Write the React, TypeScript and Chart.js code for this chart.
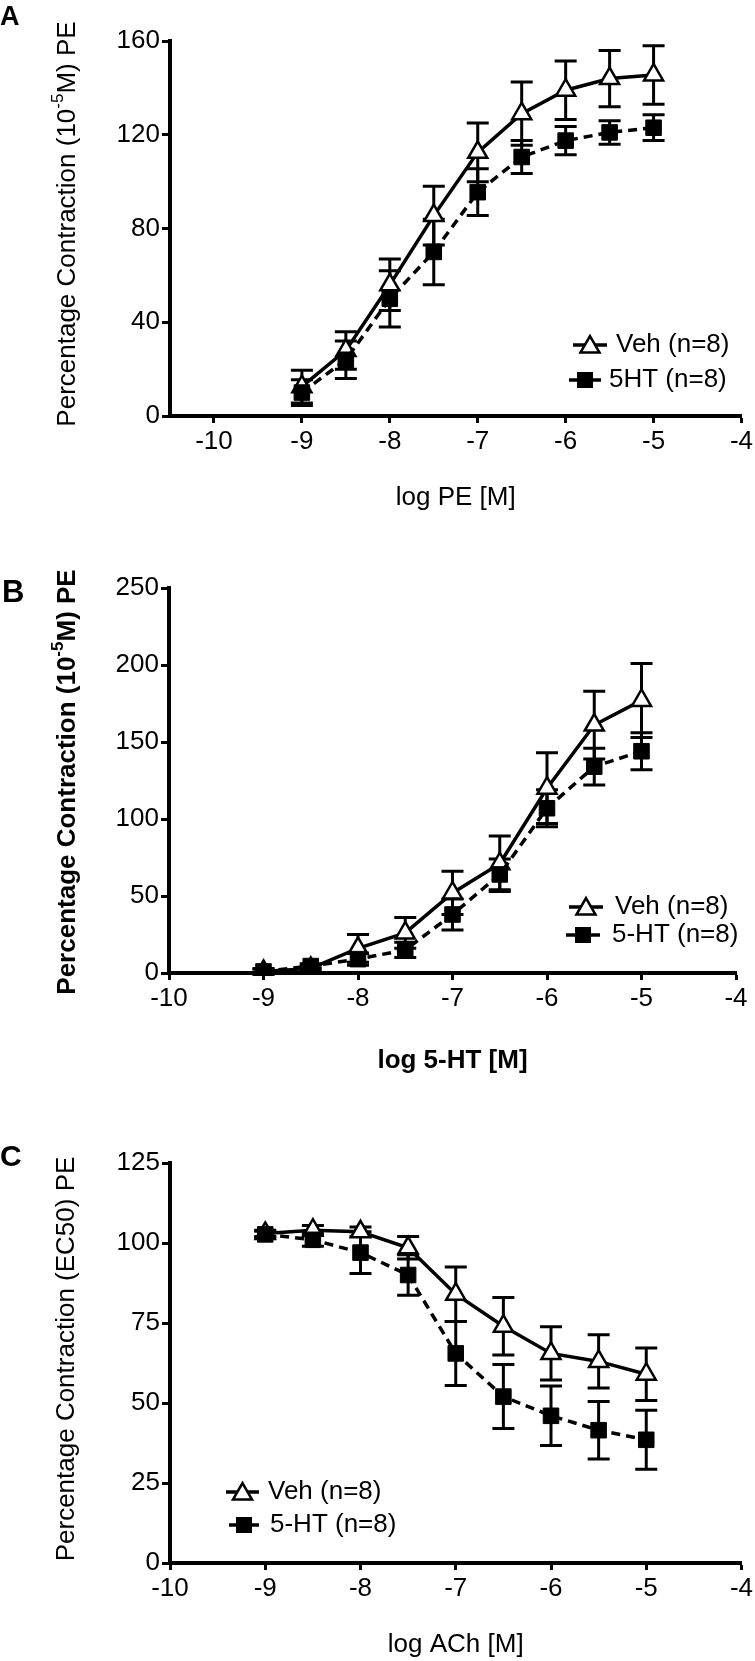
import React, { useEffect, useRef } from "react";
import { Chart, registerables } from "chart.js";

Chart.register(...registerables);

// ---------- data ----------
const DOSES = [-9, -8.5, -8, -7.5, -7, -6.5, -6, -5.5, -5];
const X_TICKS = [-10, -9, -8, -7, -6, -5, -4];

const A_Y_TICKS = [0, 40, 80, 120, 160];
const A_VEH = [12.5, 28, 56, 85.5, 112.5, 129, 139, 144, 145.5];
const A_VEH_SEM = [7, 8, 11, 12.5, 12.5, 13.5, 12.5, 12, 12.5];
const A_5HT = [10, 24, 50, 70, 95.5, 110.5, 117.5, 121, 123];
const A_5HT_SEM = [5.5, 8, 12, 14, 10, 7, 6, 5, 5.5];

const B_Y_TICKS = [0, 50, 100, 150, 200, 250];
const B_VEH = [1, 3, 16, 26, 52, 71, 120, 161, 177];
const B_VEH_SEM = [2, 2, 9, 10, 14, 18, 23, 22, 24];
const B_5HT = [1, 4.5, 9, 15, 38, 64, 107, 134, 144];
const B_5HT_SEM = [1.5, 1.5, 4, 5, 10, 10, 12, 12, 12];

const C_Y_TICKS = [0, 25, 50, 75, 100, 125];
const C_VEH = [103, 104, 103.5, 98.5, 84, 74, 65.5, 63, 59];
const C_VEH_SEM = [1, 1.5, 1.5, 3.5, 8.5, 9, 8.3, 8.3, 8.2];
const C_5HT = [102.7, 101, 97, 90, 65.5, 52, 46, 41.5, 38.5];
const C_5HT_SEM = [1, 2, 6.5, 6.3, 10, 10, 9.3, 9, 9.2];

const FONT = "'Liberation Sans', Arial, Helvetica, sans-serif";

// ---------- plugins ----------
const CAP = 11;
const errorBarPlugin = {
  id: "errorBars",
  beforeDatasetsDraw(chart: any) {
    const { ctx } = chart;
    const xs = chart.scales.x;
    const ys = chart.scales.y;
    ctx.save();
    ctx.strokeStyle = "#000";
    ctx.lineWidth = 3;
    ctx.setLineDash([]);
    chart.data.datasets.forEach((ds: any) => {
      const errs = ds.errors;
      if (!errs) return;
      ds.data.forEach((pt: any, i: number) => {
        const px = xs.getPixelForValue(pt.x);
        const top = ys.getPixelForValue(pt.y + errs[i]);
        const bot = ys.getPixelForValue(pt.y - errs[i]);
        ctx.beginPath();
        ctx.moveTo(px, top);
        ctx.lineTo(px, bot);
        ctx.moveTo(px - CAP, top);
        ctx.lineTo(px + CAP, top);
        ctx.moveTo(px - CAP, bot);
        ctx.lineTo(px + CAP, bot);
        ctx.stroke();
      });
    });
    ctx.restore();
  },
};

function drawTriangle(ctx: CanvasRenderingContext2D, x: number, y: number, r: number) {
  ctx.beginPath();
  for (let k = 0; k < 3; k++) {
    const a = (k * 2 * Math.PI) / 3;
    const px = x + Math.sin(a) * r;
    const py = y - Math.cos(a) * r;
    if (k === 0) ctx.moveTo(px, py);
    else ctx.lineTo(px, py);
  }
  ctx.closePath();
  ctx.fillStyle = "#fff";
  ctx.fill();
  ctx.lineWidth = 2.5;
  ctx.strokeStyle = "#000";
  ctx.stroke();
}

const decorPlugin = {
  id: "decor",
  afterDraw(chart: any, _args: any, opts: any) {
    const { ctx, chartArea } = chart;
    ctx.save();
    ctx.fillStyle = "#000";
    // panel letter
    const L = opts.letter;
    ctx.font = `bold ${L.size}px ${FONT}`;
    ctx.textAlign = "left";
    ctx.textBaseline = "middle";
    ctx.fillText(L.text, L.x, L.y);

    // y title
    const Y = opts.yTitle;
    const w = Y.bold ? "bold " : "";
    ctx.save();
    ctx.translate(Y.cx, Y.cy);
    ctx.rotate(-Math.PI / 2);
    let total = 0;
    const widths = Y.parts.map((p: any) => {
      ctx.font = `${w}${p.sup ? Math.round(Y.size * 0.65) : Y.size}px ${FONT}`;
      const mw = ctx.measureText(p.text).width;
      total += mw;
      return mw;
    });
    let cx = -total / 2;
    ctx.textAlign = "left";
    ctx.textBaseline = "middle";
    Y.parts.forEach((p: any, i: number) => {
      ctx.font = `${w}${p.sup ? Math.round(Y.size * 0.65) : Y.size}px ${FONT}`;
      ctx.fillText(p.text, cx, p.sup ? -Y.size * 0.38 : 0);
      cx += widths[i];
    });
    ctx.restore();

    // x title
    const X = opts.xTitle;
    ctx.font = `${X.bold ? "bold " : ""}${X.size}px ${FONT}`;
    ctx.textAlign = "center";
    ctx.textBaseline = "middle";
    ctx.fillText(X.text, (chartArea.left + chartArea.right) / 2 + (X.dx || 0), chartArea.bottom + X.dy);

    // legend
    opts.legend.forEach((row: any) => {
      ctx.setLineDash([]);
      ctx.strokeStyle = "#000";
      ctx.lineWidth = 3.5;
      ctx.beginPath();
      ctx.moveTo(row.x1, row.y);
      ctx.lineTo(row.x2, row.y);
      ctx.stroke();
      const mx = (row.x1 + row.x2) / 2;
      if (row.style === "tri") {
        drawTriangle(ctx, mx, row.y + 2, 11);
      } else {
        ctx.fillStyle = "#000";
        ctx.fillRect(mx - 8, row.y - 8, 16, 16);
      }
      ctx.fillStyle = "#000";
      ctx.font = `${row.size}px ${FONT}`;
      ctx.textAlign = "left";
      ctx.textBaseline = "middle";
      ctx.fillText(row.label, row.tx, row.y);
    });
    ctx.restore();
  },
};

// ---------- panels ----------
const Y_TITLE_PE = [
  { text: "Percentage Contraction (10" },
  { text: "-5", sup: true },
  { text: "M) PE" },
];
const Y_TITLE_C = [{ text: "Percentage Contraction (EC50) PE" }];

const PANELS = [
  {
    top: 0,
    height: 530,
    area: { left: 170, right: 743, top: 41, bottom: 416 },
    xMin: -10.5,
    xMax: -4,
    yMax: 160,
    yTicks: A_Y_TICKS,
    veh: A_VEH,
    vehSem: A_VEH_SEM,
    ht: A_5HT,
    htSem: A_5HT_SEM,
    letter: { text: "A", x: 0, y: 18, size: 27 },
    yTitle: { parts: Y_TITLE_PE, cx: 68, cy: 224, size: 26, bold: false },
    xTitle: { text: "log PE [M]", dy: 82, size: 26, bold: false },
    legend: [
      { label: "Veh (n=8)", style: "tri", y: 345, x1: 573, x2: 607, tx: 616, size: 26 },
      { label: "5HT (n=8)", style: "sq", y: 380, x1: 569, x2: 601, tx: 609, size: 26 },
    ],
  },
  {
    top: 530,
    height: 570,
    area: { left: 169, right: 736, top: 58, bottom: 443 },
    xMin: -10,
    xMax: -4,
    yMax: 250,
    yTicks: B_Y_TICKS,
    veh: B_VEH,
    vehSem: B_VEH_SEM,
    ht: B_5HT,
    htSem: B_5HT_SEM,
    letter: { text: "B", x: 2, y: 63, size: 31 },
    yTitle: { parts: Y_TITLE_PE, cx: 68, cy: 252, size: 26, bold: true },
    xTitle: { text: "log 5-HT [M]", dy: 88, size: 26, bold: true },
    legend: [
      { label: "Veh (n=8)", style: "tri", y: 377, x1: 569, x2: 603, tx: 615, size: 26 },
      { label: "5-HT (n=8)", style: "sq", y: 405, x1: 566, x2: 600, tx: 612, size: 26 },
    ],
  },
  {
    top: 1100,
    height: 561,
    area: { left: 170, right: 742, top: 63, bottom: 463 },
    xMin: -10,
    xMax: -4,
    yMax: 125,
    yTicks: C_Y_TICKS,
    veh: C_VEH,
    vehSem: C_VEH_SEM,
    ht: C_5HT,
    htSem: C_5HT_SEM,
    letter: { text: "C", x: 0, y: 58, size: 30 },
    yTitle: { parts: Y_TITLE_C, cx: 67, cy: 259, size: 26, bold: false },
    xTitle: { text: "log ACh [M]", dy: 82, size: 26, bold: false },
    legend: [
      { label: "Veh (n=8)", style: "tri", y: 392, x1: 226, x2: 259, tx: 268, size: 26 },
      { label: "5-HT (n=8)", style: "sq", y: 425, x1: 229, x2: 259, tx: 270, size: 26 },
    ],
  },
];

function buildConfig(p: any): any {
  const W = 755;
  const tickFont = { family: FONT, size: 26 };
  return {
    type: "line",
    data: {
      datasets: [
        {
          label: "5-HT",
          data: DOSES.map((x, i) => ({ x, y: p.ht[i] })),
          errors: p.htSem,
          borderColor: "#000",
          borderWidth: 3.5,
          borderDash: [9, 6],
          pointStyle: "rect",
          pointRadius: 11,
          pointBackgroundColor: "#000",
          pointBorderColor: "#000",
          pointBorderWidth: 1,
          tension: 0,
          fill: false,
        },
        {
          label: "Veh",
          data: DOSES.map((x, i) => ({ x, y: p.veh[i] })),
          errors: p.vehSem,
          borderColor: "#000",
          borderWidth: 3.5,
          pointStyle: "triangle",
          pointRadius: 11,
          pointBackgroundColor: "#fff",
          pointBorderColor: "#000",
          pointBorderWidth: 2.5,
          tension: 0,
          fill: false,
        },
      ],
    },
    options: {
      animation: false,
      responsive: false,
      maintainAspectRatio: false,
      devicePixelRatio: 1,
      layout: {
        padding: { left: 0, right: W - p.area.right, top: p.area.top, bottom: 0 },
      },
      plugins: {
        legend: { display: false },
        tooltip: { enabled: false },
        decor: p,
      },
      scales: {
        x: {
          type: "linear",
          min: p.xMin,
          max: p.xMax,
          afterBuildTicks: (s: any) => {
            s.ticks = X_TICKS.map((v) => ({ value: v }));
          },
          afterFit: (s: any) => {
            s.height = p.height - p.area.bottom;
            s.paddingLeft = 0;
            s.paddingRight = 0;
          },
          grid: { drawOnChartArea: false, drawTicks: true, tickLength: 7, tickWidth: 3, tickColor: "#000" },
          border: { display: true, color: "#000", width: 4 },
          ticks: { color: "#000", font: tickFont, padding: 3, maxRotation: 0, autoSkip: false },
        },
        y: {
          type: "linear",
          min: 0,
          max: p.yMax,
          afterBuildTicks: (s: any) => {
            s.ticks = p.yTicks.map((v: number) => ({ value: v }));
          },
          afterFit: (s: any) => {
            s.width = p.area.left;
            s.paddingTop = 0;
            s.paddingBottom = 0;
          },
          grid: { drawOnChartArea: false, drawTicks: true, tickLength: 8, tickWidth: 3, tickColor: "#000" },
          border: { display: true, color: "#000", width: 4 },
          ticks: { color: "#000", font: tickFont, padding: 2, autoSkip: false },
        },
      },
    },
    plugins: [errorBarPlugin, decorPlugin],
  };
}

function Panel({ cfg }: { cfg: any }) {
  const ref = useRef<HTMLCanvasElement>(null);
  useEffect(() => {
    const chart = new Chart(ref.current as HTMLCanvasElement, buildConfig(cfg));
    return () => chart.destroy();
  }, [cfg]);
  return (
    <canvas
      ref={ref}
      width={755}
      height={cfg.height}
      style={{ position: "absolute", left: 0, top: cfg.top, width: 755, height: cfg.height, display: "block" }}
    />
  );
}

export default function App() {
  return (
    <div style={{ position: "absolute", left: 0, top: 0, width: 755, height: 1661, background: "#fff", overflow: "hidden" }}>
      {PANELS.map((p, i) => (
        <Panel key={i} cfg={p} />
      ))}
    </div>
  );
}
